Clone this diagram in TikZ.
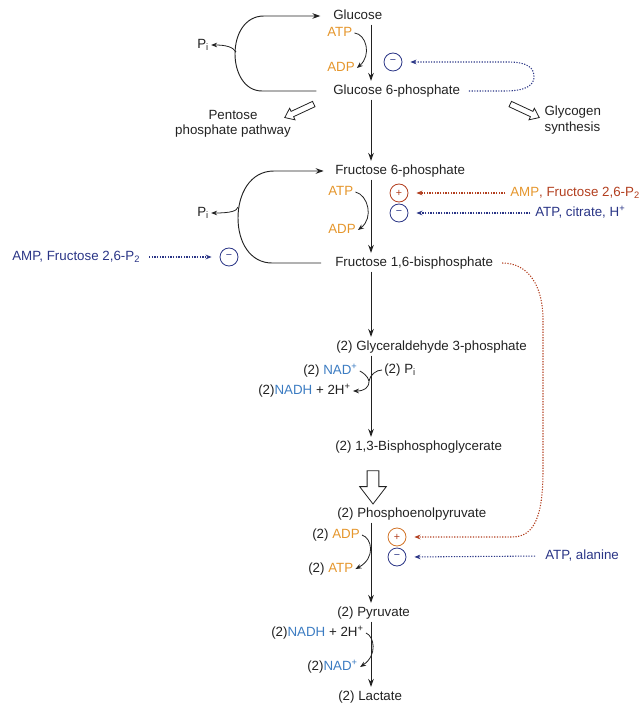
\documentclass[tikz,border=0pt]{standalone}
\usepackage{fontspec}
\setmainfont{Liberation Sans}
\usetikzlibrary{arrows.meta,shapes.arrows}
\definecolor{ink}{HTML}{222222}
\definecolor{amber}{HTML}{E5962C}
\definecolor{sky}{HTML}{3C7CC2}
\definecolor{navy}{HTML}{2A3586}
\definecolor{rust}{HTML}{B23E1E}
\tikzset{arr/.style={-{Stealth[length=6pt,width=4.2pt]},line width=0.7pt,draw=ink,shorten >=1pt},
  sidearr/.style={-{Stealth[length=4.5pt,width=3.5pt]},line width=0.6pt,draw=ink},
  reg/.style={-{Stealth[length=4.5pt,width=3.5pt]},line width=0.8pt,dash pattern=on 0.9pt off 1.1pt},
  met/.style={anchor=west,inner sep=1.5pt,text height=7.5pt,text depth=2.2pt,font=\fontsize{10}{12}\selectfont,text=ink},
  cof/.style={met,text=amber},
  note/.style={inner sep=1pt,font=\fontsize{10}{11.5}\selectfont,text=ink},
  effc/.style={circle,draw,line width=0.6pt,minimum size=13.5pt,inner sep=0pt,font=\fontsize{8}{8}\selectfont},
  hollow/.style={single arrow,draw=ink,line width=0.6pt,fill=white,single arrow tip angle=75}}
\begin{document}
\begin{tikzpicture}[x=0.75pt,y=-0.75pt]
\useasboundingbox (0,0) rectangle (640,705);
\coordinate (ax) at (371,0);
\node[met] (glc) at (331,16) {Glucose};
\node[cof] (atp1) at (325,33) {ATP};
\node[cof] (adp1) at (325,68) {ADP};
\node[met] (g6p) at (331,91) {Glucose 6-phosphate};
\node[met] (pi1) at (195,45) {P\textsubscript{i}};
\node[effc,draw=navy,text=navy] (inh1) at (393,62) {−};
\node[note,align=center] (ppp) at (233,124) {Pentose\\phosphate pathway};
\node[note,align=left,anchor=west] (glyc) at (543,120) {Glycogen\\synthesis};
\node[hollow,minimum height=24pt,inner sep=1.9pt,single arrow head extend=2.6pt,rotate=205] (pparr) at (301,110) {};
\node[hollow,minimum height=24pt,inner sep=1.9pt,single arrow head extend=2.6pt,rotate=-25] (glarr) at (523,110) {};
\node[met] (f6p) at (333,171) {Fructose 6-phosphate};
\node[cof] (atp2) at (326,192) {ATP};
\node[cof] (adp2) at (326,230) {ADP};
\node[met] (f16bp) at (333,263) {Fructose 1,6-bisphosphate};
\node[met] (pi2) at (195,213) {P\textsubscript{i}};
\node[effc,draw=rust,text=rust] (act2) at (399,193) {+};
\node[effc,draw=navy,text=navy] (inh2) at (399,213) {−};
\node[met] (eff2a) at (508,193) {\textcolor{amber}{AMP}\textcolor{rust}{, Fructose 2,6-P\textsubscript{2}}};
\node[met,text=navy] (eff2b) at (533,213) {ATP, citrate, H\textsuperscript{+}};
\node[effc,draw=navy,text=navy] (inh2l) at (229,257) {−};
\node[met,text=navy] (eff2l) at (10,257) {AMP, Fructose 2,6-P\textsubscript{2}};
\node[met] (g3p) at (334,347) {(2) Glyceraldehyde 3-phosphate};
\node[met] (nad1) at (301,371) {(2) \textcolor{sky}{NAD\textsuperscript{+}}};
\node[met] (pi3) at (382,370) {(2) P\textsubscript{i}};
\node[met] (nadh1) at (256,391) {(2)\textcolor{sky}{NADH} + 2H\textsuperscript{+}};
\coordinate (j1) at (369,381);
\node[met] (bpg) at (333,447) {(2) 1,3-Bisphosphoglycerate};
\node[hollow,minimum height=25pt,inner sep=4.1pt,single arrow head extend=5.6pt,rotate=-90] (bigarr) at (373,483.5) {};
\node[met] (pep) at (335,514) {(2) Phosphoenolpyruvate};
\node[met] (adp3) at (310,535) {(2) \textcolor{amber}{ADP}};
\node[met] (atp3) at (306,569) {(2) \textcolor{amber}{ATP}};
\node[effc,draw=amber!60!rust,text=rust] (act3) at (397,537) {+};
\node[effc,draw=navy,text=navy] (inh3) at (397,557) {−};
\node[met,text=navy] (eff3) at (543,556) {ATP, alanine};
\node[met] (pyr) at (335,613) {(2) Pyruvate};
\node[met] (nadh2) at (269,633) {(2)\textcolor{sky}{NADH} + 2H\textsuperscript{+}};
\node[met] (nad2) at (305,667) {(2)\textcolor{sky}{NAD\textsuperscript{+}}};
\node[met] (lac) at (336,697) {(2) Lactate};
\coordinate (k1) at (236,52);
\coordinate (k2) at (238,207);
\draw[arr] (glc.south -| ax) -- (g6p.north -| ax);
\draw[arr] (g6p.south -| ax) -- (f6p.north -| ax);
\draw[arr] (f6p.south -| ax) -- (f16bp.north -| ax);
\draw[arr] (f16bp.south -| ax) -- (g3p.north -| ax);
\draw[arr] (g3p.south -| ax) -- (bpg.north -| ax);
\draw[arr] (pep.south -| ax) -- (pyr.north -| ax);
\draw[arr] (pyr.south -| ax) -- (lac.north -| ax);
\draw[arr,shorten <=11pt,shorten >=8pt] (g6p.west) -- (262,91) .. controls (244,91) and (235,72) .. (235,54) .. controls (235,34) and (245,16) .. (264,16) -- (glc.west);
\draw[sidearr] (k1) .. controls (233,47) and (226,45) .. (pi1.east);
\draw[arr,shorten <=9pt,shorten >=7pt] (f16bp.west) -- (272,263) .. controls (250,263) and (238,242) .. (238,218) .. controls (238,194) and (250,171) .. (274,171) -- (f6p.west);
\draw[sidearr] (k2) .. controls (237,211) and (231,213) .. (pi2.east);
\draw[sidearr] (atp1.east) .. controls (366,34) and (372,55) .. (adp1.east);
\draw[sidearr] (atp2.east) .. controls (368,195) and (374,218) .. (adp2.east);
\draw[sidearr,-] (nad1.east) .. controls (362,372) and (368,376) .. (j1);
\draw[sidearr,-] (pi3.west) .. controls (376,370) and (370,375) .. (j1);
\draw[sidearr] (j1) .. controls (369,388) and (364,391) .. (nadh1.east);
\draw[sidearr] (adp3.east) .. controls (372,538) and (376,558) .. (atp3.east);
\draw[sidearr] (nadh2.east) .. controls (374,636) and (378,655) .. (nad2.east);
\draw[reg,draw=navy,shorten <=5pt,shorten >=6pt] (g6p.east) -- (505,91) .. controls (528,91) and (534,84) .. (534,77) .. controls (534,68) and (528,62) .. (508,62) -- (inh1.east);
\draw[reg,draw=rust,shorten <=2pt,shorten >=6pt] (eff2a.west) -- (act2.east);
\draw[reg,draw=navy,shorten <=2pt,shorten >=6pt] (eff2b.west) -- (inh2.east);
\draw[reg,draw=navy,shorten <=5pt,shorten >=6pt] (eff2l.east) -- (inh2l.west);
\draw[reg,draw=rust,shorten <=5pt,shorten >=6pt] (f16bp.east) .. controls (528,263) and (543,285) .. (543,320) -- (543,470) .. controls (543,515) and (535,537) .. (512,537) -- (act3.east);
\draw[reg,draw=navy,shorten <=6pt,shorten >=6pt] (eff3.west) -- (inh3.east);
\end{tikzpicture}
\end{document}
